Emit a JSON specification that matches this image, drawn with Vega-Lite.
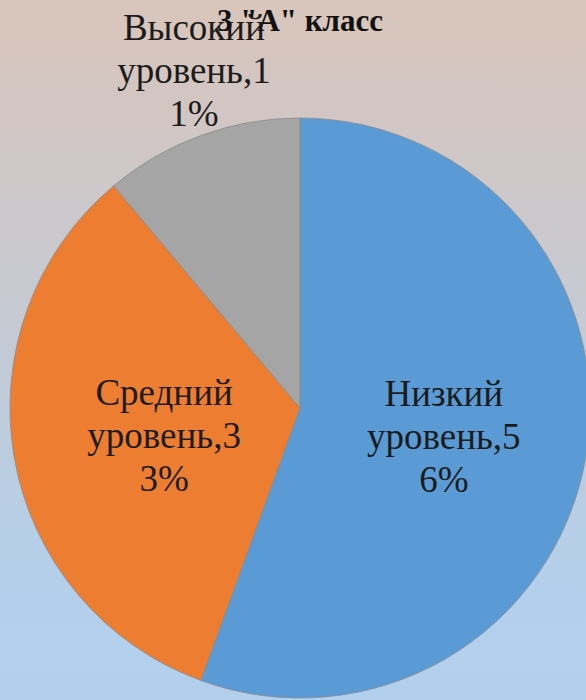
{
  "$schema": "https://vega.github.io/schema/vega-lite/v6.json",
  "width": 586,
  "height": 660,
  "autosize": "none",
  "padding": {"left": 0, "right": 0, "top": 40, "bottom": 0},
  "background": "#d8c5bc",
  "view": {
    "stroke": null,
    "fill": {
      "gradient": "linear",
      "x1": 0, "y1": 0, "x2": 0, "y2": 1,
      "stops": [
        {"offset": 0, "color": "#d6c5be"},
        {"offset": 0.45, "color": "#c4cad4"},
        {"offset": 0.8, "color": "#b4cfea"},
        {"offset": 1, "color": "#b2d0ee"}
      ]
    }
  },
  "title": {
    "text": "3 \"A\" класс",
    "font": "Liberation Serif",
    "fontSize": 31,
    "fontWeight": "bold",
    "color": "#111111",
    "anchor": "middle",
    "baseline": "top",
    "offset": -28,
    "dx": 7
  },
  "data": {
    "values": [
      {"level": "Низкий уровень", "count": 5, "order": 1, "label": "Низкий|уровень,5|6%"},
      {"level": "Средний уровень", "count": 3, "order": 2, "label": "Средний|уровень,3|3%"},
      {"level": "Высокий уровень", "count": 1, "order": 3, "label": "Высокий|уровень,1|1%"}
    ]
  },
  "encoding": {
    "theta": {"field": "count", "type": "quantitative", "stack": true},
    "order": {"field": "order", "type": "quantitative"},
    "x": {"value": 300},
    "y": {"value": 368}
  },
  "layer": [
    {
      "mark": {"type": "arc", "outerRadius": 290, "stroke": "#8c8c8c", "strokeWidth": 0.8},
      "encoding": {
        "color": {
          "field": "level",
          "type": "nominal",
          "scale": {
            "domain": ["Низкий уровень", "Средний уровень", "Высокий уровень"],
            "range": ["#5b9bd5", "#ed7d31", "#a5a5a5"]
          },
          "legend": null
        }
      }
    },
    {
      "mark": {
        "type": "text",
        "font": "Liberation Serif",
        "fontSize": 37,
        "lineHeight": 43,
        "lineBreak": "|",
        "align": "center",
        "baseline": "middle",
        "color": "#1c1c1c",
        "radius": 146,
        "dy": -38
      },
      "encoding": {
        "text": {"field": "label", "type": "nominal"},
        "opacity": {"condition": {"test": "datum.order === 1", "value": 1}, "value": 0}
      }
    },
    {
      "mark": {
        "type": "text",
        "font": "Liberation Serif",
        "fontSize": 37,
        "lineHeight": 43,
        "lineBreak": "|",
        "align": "center",
        "baseline": "middle",
        "color": "#1c1c1c",
        "radius": 138,
        "dy": -38
      },
      "encoding": {
        "text": {"field": "label", "type": "nominal"},
        "opacity": {"condition": {"test": "datum.order === 2", "value": 1}, "value": 0}
      }
    },
    {
      "mark": {
        "type": "text",
        "font": "Liberation Serif",
        "fontSize": 37,
        "lineHeight": 43,
        "lineBreak": "|",
        "align": "center",
        "baseline": "middle",
        "color": "#1c1c1c",
        "radius": 354,
        "dx": 15,
        "dy": -46
      },
      "encoding": {
        "text": {"field": "label", "type": "nominal"},
        "opacity": {"condition": {"test": "datum.order === 3", "value": 1}, "value": 0}
      }
    }
  ]
}
